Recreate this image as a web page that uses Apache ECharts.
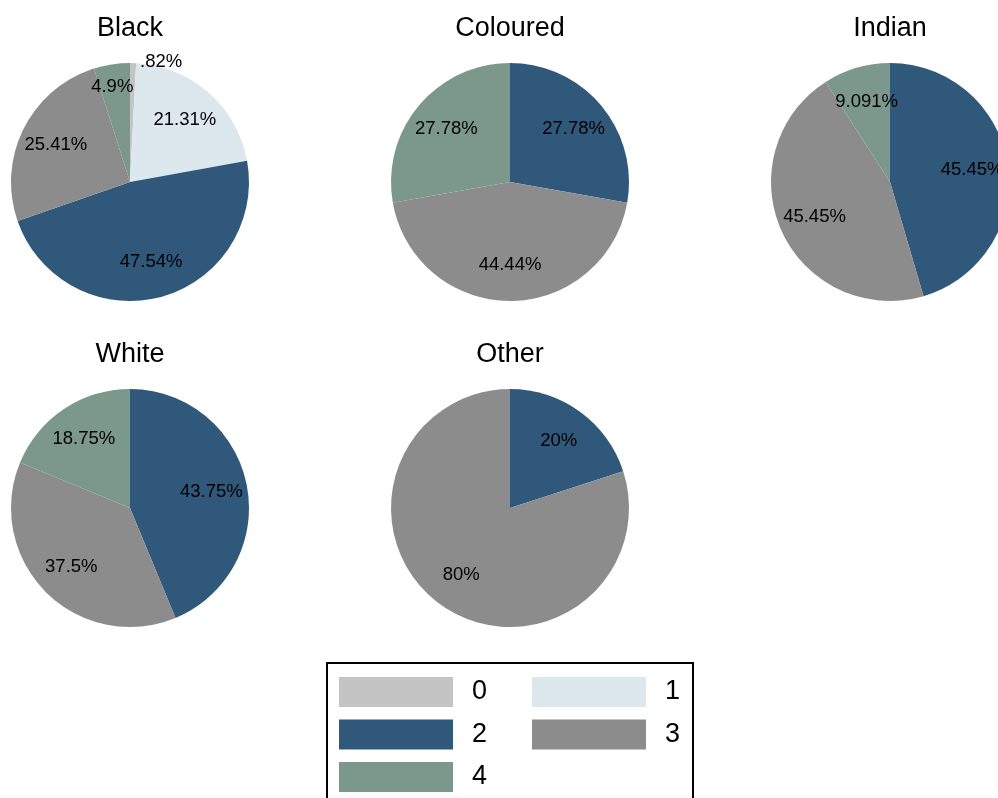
<!DOCTYPE html>
<html>
<head>
<meta charset="utf-8">
<script src="https://cdn.jsdelivr.net/npm/echarts@6/dist/echarts.min.js"></script>
<style>
  html, body { margin: 0; padding: 0; background: #fff; }
  #chart { width: 998px; height: 798px; }
</style>
</head>
<body>
<div id="chart"></div>
<script>
// Category codes (legend keys) and share of each code, per group (%)
const categories = ['0', '1', '2', '3', '4'];
const groups = ['Black', 'Coloured', 'Indian', 'White', 'Other'];
const blackShares    = [0.82, 21.31, 47.54, 25.41, 4.9];
const colouredShares = [0, 0, 27.78, 44.44, 27.78];
const indianShares   = [0, 0, 45.45, 45.45, 9.091];
const whiteShares    = [0, 0, 43.75, 37.5, 18.75];
const otherShares    = [0, 0, 20, 80, 0];
const sharesByGroup = [blackShares, colouredShares, indianShares, whiteShares, otherShares];

// Styling
const palette = ['#c4c4c4', '#dce8ed', '#30587b', '#8c8c8c', '#7c988d'];
const FONT = '"Liberation Sans", Arial, sans-serif';
const centers = [[130, 182], [510, 182], [890, 182], [130, 508], [510, 508]];
const R = 119;
// nudges for the crowded labels of the thin slices
const labelNudge = { 'Black|0': [29, -37], 'Black|4': [-5, -13] };

function fmt(v) {
  return String(v).replace(/^0\./, '.') + '%';
}

const series = [];
const graphics = [];

groups.forEach((g, gi) => {
  const shares = sharesByGroup[gi];
  const slices = [];
  shares.forEach((v, ci) => {
    if (v > 0) slices.push({ name: categories[ci], value: v, ci: ci });
  });

  // filled slices
  series.push({
    type: 'pie',
    center: centers[gi],
    radius: [0, R],
    startAngle: 90,
    clockwise: true,
    animation: false,
    silent: true,
    label: { show: false },
    labelLine: { show: false },
    data: slices.map(s => ({
      name: s.name, value: s.value,
      itemStyle: { color: palette[s.ci] }
    }))
  });

  // value labels sitting at about two-thirds of the radius
  series.push({
    type: 'pie',
    center: centers[gi],
    radius: [41, R],
    startAngle: 90,
    clockwise: true,
    animation: false,
    silent: true,
    z: 5,
    itemStyle: { color: 'rgba(0,0,0,0)' },
    labelLine: { show: false },
    data: slices.map(s => {
      const nudge = labelNudge[g + '|' + s.name] || [0, 0];
      return {
        name: s.name, value: s.value,
        itemStyle: { color: 'rgba(0,0,0,0)' },
        label: {
          show: true, position: 'inside', offset: nudge,
          formatter: fmt(s.value),
          color: '#000', fontSize: 18.5, fontFamily: FONT
        }
      };
    })
  });

  // group heading
  graphics.push({
    type: 'text',
    x: centers[gi][0],
    y: centers[gi][1] - 153,
    style: {
      text: g, fill: '#000',
      font: '27px ' + FONT,
      textAlign: 'center', textVerticalAlign: 'middle'
    }
  });
});

// legend frame
graphics.push({
  type: 'rect',
  shape: { x: 327, y: 663, width: 366, height: 160 },
  style: { fill: 'none', stroke: '#000', lineWidth: 2 },
  z: 10
});

const legendCommon = {
  orient: 'vertical',
  padding: 0,
  itemWidth: 114,
  itemHeight: 30,
  itemGap: 12.5,
  icon: 'rect',
  selectedMode: false,
  textStyle: { color: '#000', fontSize: 27, fontFamily: FONT, padding: [0, 0, 0, 14] }
};

const chart = echarts.init(document.getElementById('chart'), null, { renderer: 'canvas' });
chart.setOption({
  backgroundColor: '#fff',
  animation: false,
  legend: [
    Object.assign({}, legendCommon, { left: 339, top: 677, data: ['0', '2', '4'] }),
    Object.assign({}, legendCommon, { left: 532, top: 677, data: ['1', '3'] })
  ],
  graphic: graphics,
  series: series
});
</script>
</body>
</html>
